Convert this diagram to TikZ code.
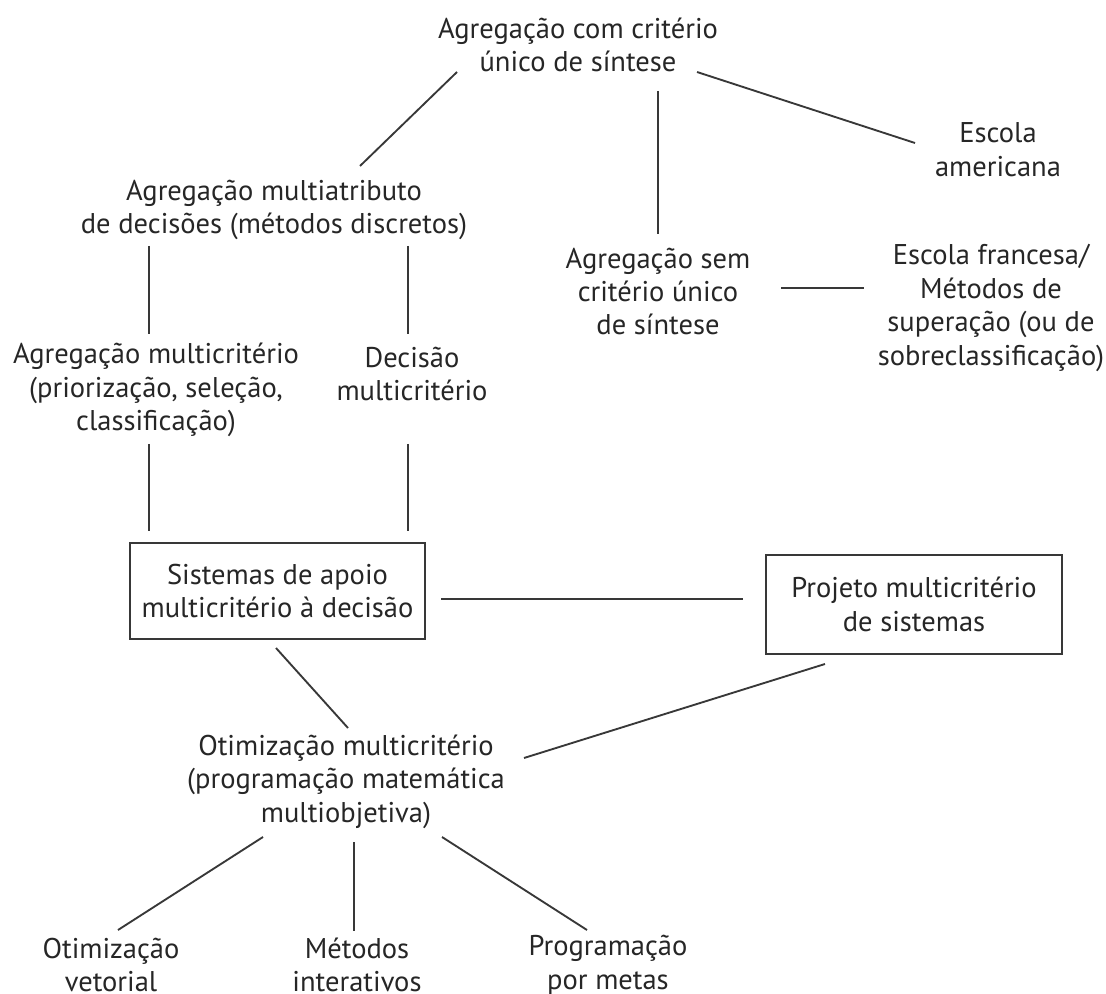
\documentclass[tikz,border=0pt]{standalone}
\usepackage{fontspec}
\setmainfont{PT Sans}
\usetikzlibrary{calc}
\definecolor{ink}{HTML}{262626}
\definecolor{rule}{HTML}{383838}
\tikzset{
  lbl/.style={text=ink, align=center, inner sep=0pt, font=\fontsize{21.4}{25.1}\selectfont},
  frame/.style={lbl, draw=rule, line width=1.4pt, rectangle},
  link/.style={draw=rule, line width=1.4pt}
}
\begin{document}
\begin{tikzpicture}[x=0.75pt, y=-0.75pt]
\useasboundingbox (0,0) rectangle (1106,994);

% concepts
\node[lbl] (top)   at (578,45)    {Agregação com critério\\único de síntese};
\node[lbl] (amer)  at (998,149.5) {Escola\\americana};
\node[lbl] (multi) at (274,210)   {Agregação multiatributo\\de decisões (métodos discretos)};
\node[lbl] (sem)   at (658,291.5) {Agregação sem\\critério único\\de síntese};
\node[lbl] (fr)    at (991,308)   {Escola francesa/\\Métodos de\\superação (ou de\\sobreclassificação)};
\node[lbl] (agm)   at (156,390)   {Agregação multicritério\\(priorização, seleção,\\classificação)};
\node[lbl] (dec)   at (412,374)   {Decisão\\multicritério};
\node[frame, minimum width=221.25pt, minimum height=72pt] (box1) at (277.5,591)
  {Sistemas de apoio\\multicritério à decisão};
\node[frame, minimum width=222pt, minimum height=74.25pt] (box2) at (914,604.5)
  {Projeto multicritério\\de sistemas};
\node[lbl] (otm)   at (346,781.5) {Otimização multicritério\\(programação matemática\\multiobjetiva)};
\node[lbl] (vet)   at (111,965)   {Otimização\\vetorial};
\node[lbl] (met)   at (357,965)   {Métodos\\interativos};
\node[lbl] (prog)  at (608,965)   {Programação\\por metas};

% connectors
\draw[link] ($(multi)+(86,-44)$)   -- ($(top)+(-121,27)$);
\draw[link] ($(top)+(80,46)$)      -- ($(sem)+(0,-57.5)$);
\draw[link] ($(top)+(119,27)$)     -- ($(amer)+(-83,-6.5)$);
\draw[link] ($(multi)+(-125,36)$)  -- ($(agm)+(-7,-56)$);
\draw[link] ($(multi)+(134,36)$)   -- ($(dec)+(-4,-40)$);
\draw[link] ($(sem)+(123,-3.5)$)   -- ($(fr)+(-127,-20)$);
\draw[link] ($(agm)+(-7,54)$)      -- ($(box1)+(-128.5,-60)$);
\draw[link] ($(dec)+(-4,70)$)      -- ($(box1)+(130.5,-60)$);
\draw[link] ($(box1)+(163.5,8)$)   -- ($(box2)+(-171,-5.5)$);
\draw[link] ($(box1)+(-1.5,57)$)   -- ($(otm)+(2,-53.5)$);
\draw[link] ($(box2)+(-89,59.5)$)  -- ($(otm)+(178,-23.5)$);
\draw[link] ($(otm)+(-83,55.5)$)   -- ($(vet)+(7,-35)$);
\draw[link] ($(otm)+(8,60.5)$)     -- ($(met)+(-3,-34)$);
\draw[link] ($(otm)+(96,55.5)$)    -- ($(prog)+(-21,-35)$);
\end{tikzpicture}
\end{document}
